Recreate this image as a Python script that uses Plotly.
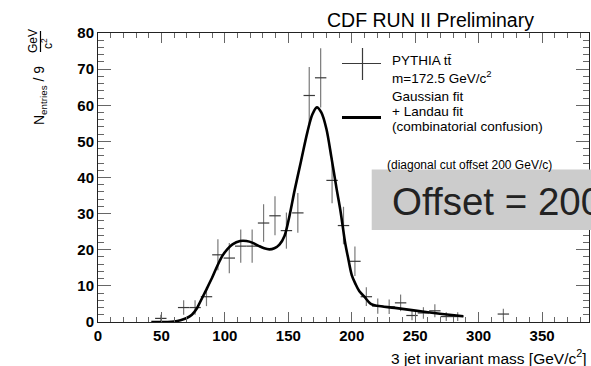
import plotly.graph_objects as go

# --- histogram of 3-jet invariant mass (9 GeV bins) ---
bin_centers = [49.5, 67.5, 76.5, 85.5, 94.5, 103.5, 112.5, 121.5, 130.5, 139.5,
               148.5, 157.5, 166.5, 175.5, 184.5, 193.5, 202.5, 211.5, 220.5,
               229.5, 238.5, 247.5, 256.5, 265.5, 274.5, 283.5, 319.5]
entries = [1.0, 4.0, 4.0, 7.0, 18.6, 17.7, 21.0, 21.0, 27.4, 29.4,
           25.3, 30.2, 62.7, 67.6, 39.2, 26.7, 16.8, 7.0, 4.4,
           4.2, 5.3, 1.8, 2.5, 3.1, 1.5, 1.5, 2.2]
entry_errors = [1.0, 2.0, 2.0, 2.6, 4.3, 4.2, 4.6, 4.6, 5.2, 5.4,
                5.0, 5.5, 7.9, 8.2, 6.3, 5.2, 4.1, 2.6, 2.1,
                2.0, 2.3, 1.3, 1.6, 1.8, 1.2, 1.2, 1.5]
half_bin = 4.5

# --- Gaussian + Landau fit curve ---
fit_mass = [42, 55, 60, 65, 70, 74, 78, 80, 85, 90, 94, 98, 102, 106, 112, 117,
            122, 127, 131, 135, 139, 143, 147, 151, 155, 160, 165, 169, 172.5,
            176, 180, 184, 188, 191, 195, 197, 200, 203, 206, 210, 215, 220,
            234, 260, 288]
fit_value = [0.0, 0.0, 0.15, 0.5, 1.1, 2.0, 3.8, 5.2, 8.7, 12.3, 15.5, 18.3, 20.2,
             21.5, 22.4, 22.4, 21.9, 21.0, 20.4, 20.1, 20.4, 21.4, 23.8, 29.5,
             36.5, 44.5, 52.5, 57.5, 59.4, 58.0, 53.5, 45.5, 37.0, 31.0, 21.5,
             18.0, 13.0, 10.5, 8.5, 7.0, 5.0, 4.5, 3.9, 2.7, 1.6]

x_range = [0, 387]
y_range = [0, 80]
x_ticks = [0, 50, 100, 150, 200, 250, 300, 350]
y_ticks = [0, 10, 20, 30, 40, 50, 60, 70, 80]

FONT = "Liberation Sans, Arial, Helvetica, sans-serif"

# figure geometry (pixels)
W, H = 591, 366
ML, MR, MT, MB = 98, 2, 33, 44
PW, PH = W - ML - MR, H - MT - MB


def px(x):
    return (x - ML) / PW


def py(y):
    return (MT + PH - y) / PH


fig = go.Figure()

fig.add_trace(go.Scatter(
    x=bin_centers, y=entries, mode="markers",
    marker=dict(size=1, color="rgba(0,0,0,0)"),
    error_y=dict(type="data", array=entry_errors, visible=True,
                 color="#7a7a7a", thickness=1.2, width=0),
    error_x=dict(type="constant", value=half_bin, visible=True,
                 color="#3a3a3a", thickness=1.2, width=0),
    showlegend=False, hoverinfo="skip",
))

fig.add_trace(go.Scatter(
    x=fit_mass, y=fit_value, mode="lines",
    line=dict(color="black", width=2.6, shape="spline", smoothing=0.9),
    showlegend=False, hoverinfo="skip",
))

axis_common = dict(
    showgrid=False, zeroline=False, showline=True, linecolor="#222",
    linewidth=1, mirror="allticks", ticks="inside", tickcolor="#666",
    tickwidth=1,
    tickfont=dict(family="Liberation Sans", size=15, color="black",
                  weight=700),
)

fig.update_xaxes(range=x_range, tickvals=x_ticks,
                 ticktext=[f"<b>{v}</b>" for v in x_ticks], ticklen=10,
                 minor=dict(dtick=10, tick0=0, ticks="inside", ticklen=5,
                            tickcolor="#666"),
                 **axis_common)
fig.update_yaxes(range=y_range, tickvals=y_ticks,
                 ticktext=[f"<b>{v}</b>" for v in y_ticks], ticklen=13,
                 minor=dict(dtick=2, tick0=0, ticks="inside", ticklen=6,
                            tickcolor="#666"),
                 **axis_common)

shapes = []
annotations = []


def text(x, y, s, size, xanchor="left", angle=0, color="black"):
    annotations.append(dict(
        x=px(x), y=py(y), xref="paper", yref="paper", text=s,
        showarrow=False, xanchor=xanchor, yanchor="middle", textangle=angle,
        font=dict(family=FONT, size=size, color=color)))


# title
text(325, 20, "CDF RUN II Preliminary", 19.5)

# axis titles
text(589, 357, "3 jet invariant mass [GeV/c<sup>2</sup>]", 15.5, xanchor="right")
text(40, 96, "N<sub>entries</sub> / 9", 14, xanchor="center", angle=-90)
text(33, 41, "GeV", 12, xanchor="center", angle=-90)
text(47, 44, "c<sup>2</sup>", 12, xanchor="center", angle=-90)
shapes.append(dict(type="line", xref="paper", yref="paper",
                   x0=px(40.5), x1=px(40.5), y0=py(31), y1=py(52),
                   line=dict(color="black", width=1.2)))

# legend: data cross
shapes.append(dict(type="line", xref="paper", yref="paper",
                   x0=px(342), x1=px(381), y0=py(63.5), y1=py(63.5),
                   line=dict(color="#3a3a3a", width=1.2)))
shapes.append(dict(type="line", xref="paper", yref="paper",
                   x0=px(362.5), x1=px(362.5), y0=py(48), y1=py(80),
                   line=dict(color="#3a3a3a", width=1.2)))
text(390, 60, "PYTHIA tt\u0304", 13.5)
text(390, 77, "m=172.5 GeV/c<sup>2</sup>", 13.5)

# legend: fit line
shapes.append(dict(type="line", xref="paper", yref="paper",
                   x0=px(342), x1=px(381), y0=py(117.5), y1=py(117.5),
                   line=dict(color="black", width=3)))
text(390, 97, "Gaussian fit", 13.5)
text(390, 111, "+ Landau fit", 13.5)
text(390, 126, "(combinatorial confusion)", 13.5)

# cut annotation and offset box
text(385, 165, "(diagonal cut offset 200 GeV/c)", 12)
shapes.append(dict(type="rect", xref="paper", yref="paper", layer="above",
                   x0=px(371.7), x1=px(600), y0=py(230), y1=py(169.5),
                   fillcolor="#cccccc", line=dict(width=0)))
text(390, 201, "Offset = 200", 38.5, color="#222222")

fig.update_layout(
    width=W, height=H,
    margin=dict(l=ML, r=MR, t=MT, b=MB),
    paper_bgcolor="white", plot_bgcolor="white",
    shapes=shapes, annotations=annotations,
    showlegend=False,
)

fig.write_html("out.html")
